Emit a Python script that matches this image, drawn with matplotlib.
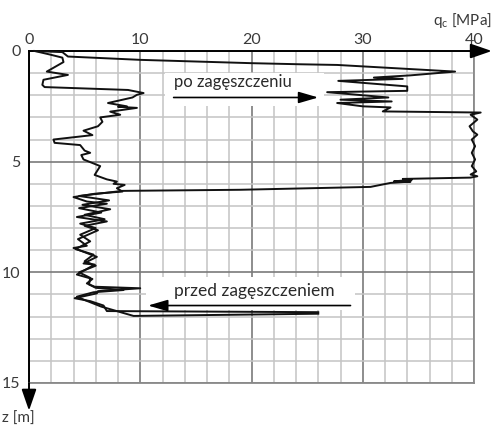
import matplotlib
matplotlib.use("Agg")
import matplotlib.pyplot as plt
from matplotlib.patches import Rectangle

plt.rcParams["font.family"] = ["Lato", "DejaVu Sans"]
plt.rcParams["mathtext.default"] = "regular"

# CPT profile before compaction: cone resistance q_c [MPa] vs depth z [m]
q_przed = [0.5, 1.8, 3.0, 3.1, 1.6, 3.5, 1.3, 1.2, 1.4, 8.9, 10.3, 9.7, 9.3,
           7.1, 8.8, 8.0, 9.7, 7.3, 8.2, 6.4, 6.6, 6.2, 4.9, 5.7, 2.2, 2.3,
           4.6, 5.0, 5.5, 4.7, 4.9, 6.4, 5.9, 7.0, 7.9, 7.6, 8.6, 7.9, 8.4,
           5.9, 4.0, 5.2, 7.0, 4.5, 6.5, 4.3, 7.0, 5.0, 6.2, 4.4, 5.2, 4.0,
           6.1, 4.9, 5.9, 4.3, 5.7, 5.2, 5.9, 10.0, 6.2, 6.1, 4.1, 5.5, 6.7,
           7.0, 26.0]
z_przed = [0.0, 0.15, 0.3, 0.5, 0.93, 1.08, 1.3, 1.53, 1.63, 1.76, 1.9, 1.98,
           2.1, 2.35, 2.5, 2.52, 2.57, 2.74, 2.88, 3.0, 3.2, 3.4, 3.6, 3.8,
           4.0, 4.15, 4.25, 4.5, 4.6, 4.7, 4.9, 5.2, 5.6, 5.8, 5.9, 6.0, 6.05,
           6.2, 6.35, 6.45, 6.6, 6.8, 6.9, 7.1, 7.3, 7.5, 7.7, 7.9, 8.1, 8.5,
           8.8, 8.9, 9.3, 9.6, 9.65, 10.1, 10.3, 10.5, 10.65, 10.72, 10.85,
           10.95, 11.17, 11.3, 11.5, 11.75, 11.8]

# CPT profile after compaction
q_po = [0.5, 3.0, 3.5, 10.0, 20.0, 24.4, 27.7, 38.3, 34.3, 31.0, 33.6, 27.8,
        34.0, 34.0, 26.8, 32.3, 28.0, 32.6, 27.7, 30.0, 32.5, 31.8, 40.6,
        39.7, 40.3, 39.6, 39.9, 40.3, 39.8, 40.1, 39.8, 40.1, 39.8, 40.2,
        39.7, 40.3, 39.7, 33.6, 34.4, 32.8, 34.3, 32.5, 30.7, 19.0, 8.4,
        4.5, 7.2, 4.8, 7.3, 5.0, 6.8, 4.6, 6.0, 4.6, 5.5, 4.2, 5.8, 5.0, 6.0,
        4.5, 5.5, 5.4, 6.0, 8.5, 5.8, 4.3, 5.0, 6.5, 9.4, 26.0]
z_po = [0.0, 0.05, 0.25, 0.4, 0.55, 0.6, 0.63, 0.93, 1.1, 1.2, 1.26, 1.35,
        1.6, 1.8, 1.86, 2.1, 2.2, 2.28, 2.35, 2.5, 2.55, 2.73, 2.78, 2.88,
        3.1, 3.4, 3.63, 3.78, 4.0, 4.3, 4.6, 4.9, 5.2, 5.44, 5.58, 5.66,
        5.72, 5.78, 5.82, 5.89, 5.9, 5.96, 6.14, 6.27, 6.32, 6.55, 6.75,
        6.95, 7.15, 7.4, 7.6, 7.8, 8.0, 8.3, 8.6, 8.95, 9.2, 9.5, 9.7, 10.0,
        10.25, 10.55, 10.7, 10.8, 10.9, 11.1, 11.25, 11.55, 11.97, 11.87]

x_ticks = [0, 10, 20, 30, 40]
z_ticks = [0, 5, 10, 15]

fig = plt.figure(figsize=(4.96, 4.28), dpi=100)
ax = fig.add_axes([29 / 496, 1 - 383 / 428, 445 / 496, 332 / 428])

ax.set_xlim(0, 40)
ax.set_ylim(15, 0)
ax.set_xticks(x_ticks)
ax.set_xticks(range(0, 41, 2), minor=True)
ax.set_yticks(z_ticks)
ax.set_yticks(range(0, 16), minor=True)
ax.xaxis.tick_top()
ax.tick_params(which="both", length=0, labelsize=11.5, labelcolor="#3a3a3a")
ax.tick_params(axis="x", pad=3)
ax.tick_params(axis="y", pad=6)
ax.grid(which="minor", color="#c4c4c4", lw=1.1)
ax.grid(which="major", color="#7a7a7a", lw=1.2)
ax.set_axisbelow(True)

for side in ("right", "bottom"):
    ax.spines[side].set_color("#8a8a8a")
    ax.spines[side].set_linewidth(1.3)
for side in ("top", "left"):
    ax.spines[side].set_color("black")
    ax.spines[side].set_linewidth(1.4)

# axis arrows beyond the frame
axis_arrow = dict(arrowstyle="-|>,head_length=1.3,head_width=0.45",
                  color="black", lw=1.4, shrinkA=0, shrinkB=0)
ax.annotate("", xy=(41.6, 0), xytext=(40, 0), annotation_clip=False,
            arrowprops=axis_arrow)
ax.annotate("", xy=(0, 16.25), xytext=(0, 15), annotation_clip=False,
            arrowprops=axis_arrow)

# white patches behind the labels
ax.add_patch(Rectangle((12.2, 0.98), 14.3, 1.5, facecolor="white",
                       edgecolor="none", zorder=1.5))
ax.add_patch(Rectangle((10.5, 10.2), 18.8, 1.5, facecolor="white",
                       edgecolor="none", zorder=1.5))

ax.plot(q_przed, z_przed, color="#111111", lw=1.4, clip_on=False, zorder=3)
ax.plot(q_po, z_po, color="#111111", lw=1.4, clip_on=False, zorder=3)

label_arrow = dict(arrowstyle="-|>,head_length=1.2,head_width=0.35",
                   color="black", lw=1.2, shrinkA=0, shrinkB=0)
ax.text(13, 1.62, "po zagęszczeniu", fontsize=12, color="#2a2a2a",
        va="baseline", ha="left", zorder=4)
ax.annotate("", xy=(26.0, 2.1), xytext=(13.0, 2.1), zorder=4,
            arrowprops=label_arrow)
ax.text(13, 11.07, "przed zagęszczeniem", fontsize=12.5, color="#2a2a2a",
        va="baseline", ha="left", zorder=4)
ax.annotate("", xy=(10.7, 11.5), xytext=(28.9, 11.5), zorder=4,
            arrowprops=label_arrow)

fig.text(492 / 496, 1 - 20 / 428, "q$_c$ [MPa]", fontsize=11, color="#3a3a3a",
         ha="right", va="center")
fig.text(2 / 496, 1 - 419 / 428, "z [m]", fontsize=11, color="#3a3a3a",
         ha="left", va="center")

fig.savefig("out.png", dpi=100)
